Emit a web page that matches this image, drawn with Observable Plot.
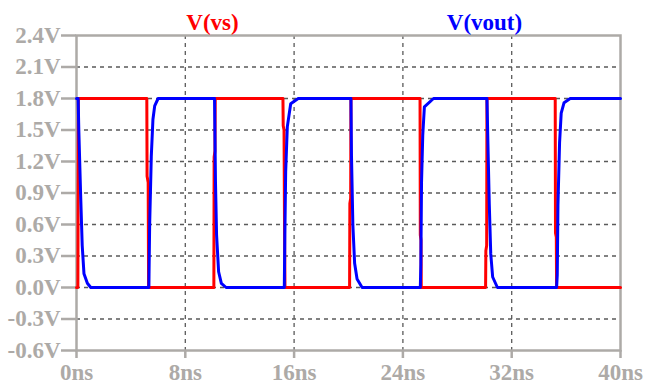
<!DOCTYPE html>
<html><head><meta charset="utf-8">
<script src="https://cdn.jsdelivr.net/npm/d3@7"></script>
<script src="https://cdn.jsdelivr.net/npm/@observablehq/plot@0.6"></script>
<style>
body{margin:0;background:#fff}
svg text{font-family:"Liberation Serif","Times New Roman",serif;font-weight:bold}
</style>
</head><body><div id="chart"></div>
<script>
const seriesNames = ["V(vs)", "V(vout)"];
const seriesColors = ["#ff0000", "#0000ff"];
const legendX = [10, 30];

const vsTime = [0, 0.1, 0.14, 5.17, 5.19, 5.27, 5.3, 10.1, 10.12, 10.18, 10.2, 15.18, 15.2, 15.26, 15.3, 15.33, 20.08, 20.1, 20.16, 20.18, 25.26, 25.28, 25.33, 25.35, 30.08, 30.1, 30.16, 30.18, 35.2, 35.22, 35.28, 35.3, 40];
const vsVolt = [0, 0, 1.8, 1.8, 1.06, 1.0, 0, 0, 1.24, 1.3, 1.8, 1.8, 1.54, 1.5, 0.5, 0, 0, 0.8, 0.85, 1.8, 1.8, 0.5, 0.45, 0, 0, 0.35, 0.4, 1.8, 1.8, 0.52, 0.48, 0, 0];

const voutTime = [0, 0.12, 0.17, 0.3, 0.42, 0.55, 0.8, 1.05,
  5.32, 5.38, 5.5, 5.62, 5.75, 6.0,
  10.15, 10.22, 10.3, 10.45, 10.65, 11.0,
  15.28, 15.32, 15.38, 15.5, 15.75, 16.3,
  20.18, 20.22, 20.32, 20.45, 20.63, 21.0,
  25.28, 25.32, 25.37, 25.46, 25.58, 26.25,
  30.18, 30.25, 30.35, 30.46, 30.6, 30.95,
  35.3, 35.35, 35.4, 35.52, 35.64, 35.85, 36.3, 40];
const voutVolt = [1.8, 1.8, 1.5, 0.9, 0.4, 0.13, 0.04, 0,
  0, 0.6, 1.25, 1.6, 1.73, 1.8,
  1.8, 1.0, 0.5, 0.15, 0.04, 0,
  0, 0.5, 1.1, 1.53, 1.75, 1.8,
  1.8, 1.25, 0.6, 0.23, 0.08, 0,
  0, 0.22, 1.0, 1.45, 1.72, 1.8,
  1.8, 1.38, 0.8, 0.32, 0.1, 0,
  0, 0.12, 0.78, 1.38, 1.66, 1.76, 1.8, 1.8];

const xTicks = [0, 8, 16, 24, 32, 40];
const yTicks = [-0.6, -0.3, 0, 0.3, 0.6, 0.9, 1.2, 1.5, 1.8, 2.1, 2.4];

const vs = vsTime.map((t, i) => ({t, v: vsVolt[i]}));
const vout = voutTime.map((t, i) => ({t, v: voutVolt[i]}));
const legend = seriesNames.map((name, i) => ({name, x: legendX[i], color: seriesColors[i]}));

const fmtY = v => (v < 0 ? "-" : "") + Math.abs(v).toFixed(1) + "V";
const axisGray = "#adaaa7";
const gridGray = "#5a5a5a";

const chart = Plot.plot({
  width: 653,
  height: 385,
  marginLeft: 76,
  marginRight: 33,
  marginTop: 35,
  marginBottom: 35,
  style: {background: "#fff", fontFamily: "Liberation Serif", fontWeight: "bold", fontSize: "23px"},
  x: {domain: [0, 40]},
  y: {domain: [-0.6, 2.4]},
  marks: [
    Plot.gridX(xTicks.slice(1, -1), {stroke: gridGray, strokeOpacity: 1, strokeWidth: 1.3, strokeDasharray: "4,4"}),
    Plot.gridY(yTicks.slice(1, -1), {stroke: gridGray, strokeOpacity: 1, strokeWidth: 1.3, strokeDasharray: "4,4"}),
    Plot.frame({stroke: axisGray, strokeWidth: 2.5}),
    Plot.axisX(xTicks, {tickSize: 8, tickPadding: 5, tickFormat: d => d + "ns", color: axisGray, strokeWidth: 2.5, fontSize: 23, label: null}),
    Plot.axisY(yTicks, {tickSize: 15, tickPadding: 1, tickFormat: fmtY, color: axisGray, strokeWidth: 2.5, fontSize: 23, label: null}),
    Plot.line(vs, {x: "t", y: "v", stroke: seriesColors[0], strokeWidth: 3, curve: "linear"}),
    Plot.line(vout, {x: "t", y: "v", stroke: seriesColors[1], strokeWidth: 3, curve: "linear"}),
    Plot.text(legend, {x: "x", text: "name", fill: "color", frameAnchor: "top", lineAnchor: "bottom", dy: -6, fontSize: 23, fontWeight: "bold"})
  ]
});
document.getElementById("chart").append(chart);
</script>
</body></html>
